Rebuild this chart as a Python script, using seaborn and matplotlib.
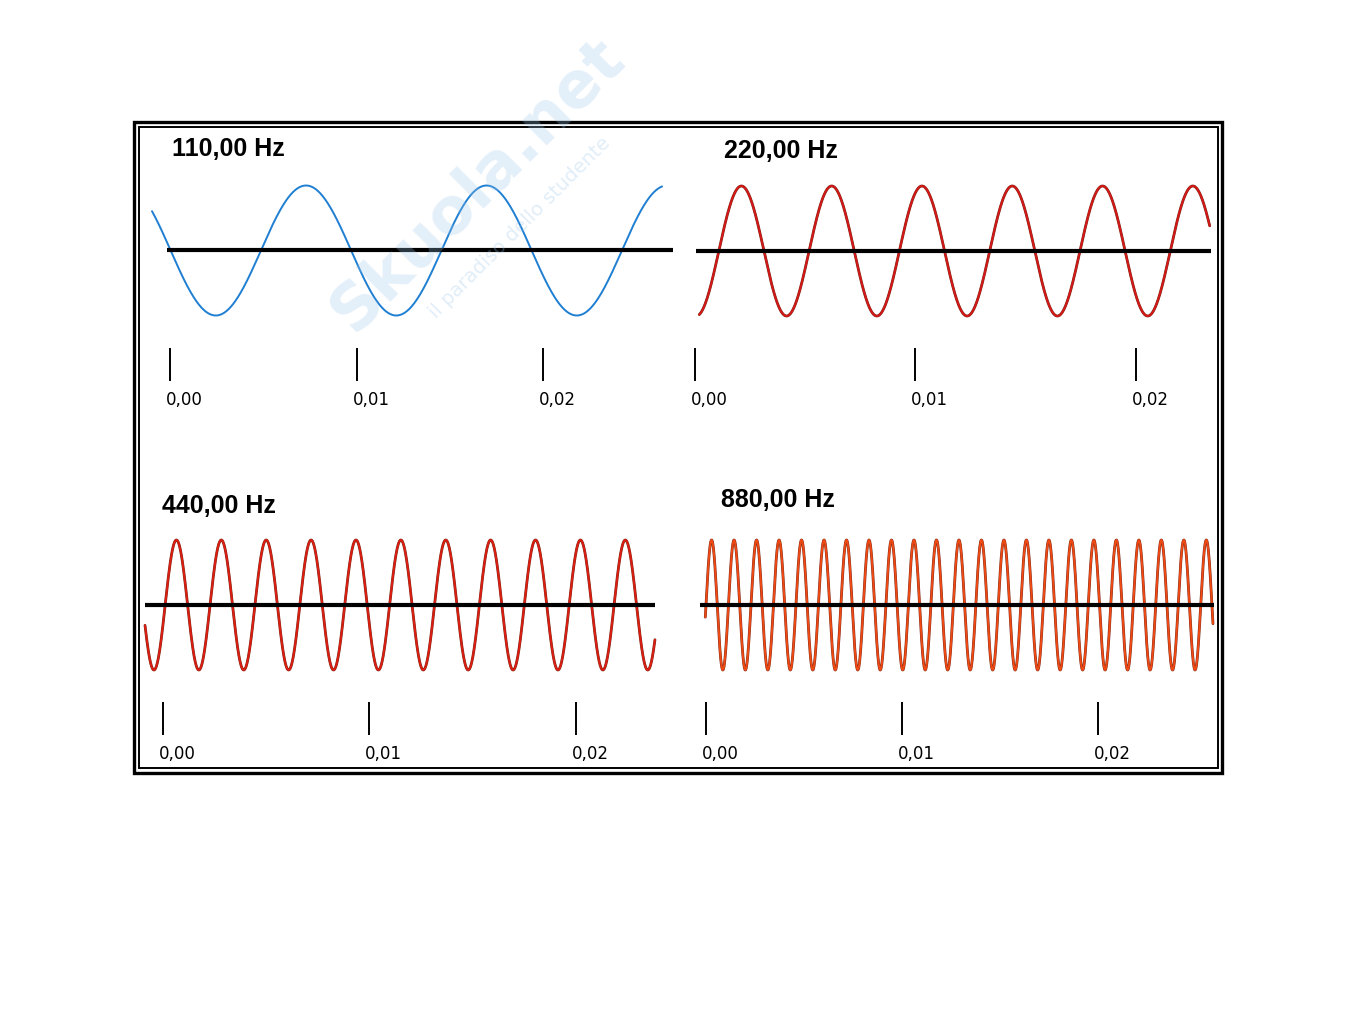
import numpy as np
import pandas as pd
import matplotlib
matplotlib.use('Agg')
import matplotlib.pyplot as plt
import matplotlib.transforms as mtransforms
from matplotlib.patches import Rectangle
import seaborn as sns

# Data
freqs = [110, 220, 440, 880]
wave_colors = ['#1f7fd2', '#d41818', '#dc1e12', '#f04a14']
period_s = [0.009673, 0.004092, 0.002175, 0.001147]      # drawn period against the axis ticks
first_peak_s = [0.00729, 0.002116, 0.000654, 0.000306]
wave_start_s = [-0.000965, 0.000208, -0.000867, -0.000015]
wave_end_s = [0.02637, 0.02334, 0.02384, 0.02588]
base_start_s = [-0.000134, 0.00005, -0.000867, -0.00027]
base_end_s = [0.02693, 0.02342, 0.02384, 0.02592]
tick_values = [0.00, 0.01, 0.02]
tick_labels = ['0,00', '0,01', '0,02']

# Layout (pixels in the 1350x1013 picture)
W, H = 1350, 1013
zero_px = [170, 694.7, 162.9, 705.6]
px_per_s = [18660, 22065, 20640, 19605]
center_py = [250.5, 251, 605, 605]
tick_top_py = [348, 348, 702, 702]
amp_px = 65
ax_left_px = [140, 686, 140, 686]
ax_right_px = [680, 1215, 680, 1215]
title_xy = [(172, 149), (724, 151), (162, 506), (721, 500)]

sns.set_style('white')
plt.rcParams['text.color'] = 'black'
plt.rcParams['xtick.color'] = 'black'
plt.rcParams['xtick.labelcolor'] = 'black'

fig = plt.figure(figsize=(13.5, 10.13), dpi=100)

label_shift = mtransforms.ScaledTranslation(-4 / 100, 0, fig.dpi_scale_trans)

for i in range(4):
    top_py = center_py[i] - 80
    bot_py = tick_top_py[i]
    ax = fig.add_axes([ax_left_px[i] / W, 1 - bot_py / H,
                       (ax_right_px[i] - ax_left_px[i]) / W, (bot_py - top_py) / H])
    ax.set_xlim((ax_left_px[i] - zero_px[i]) / px_per_s[i],
                (ax_right_px[i] - zero_px[i]) / px_per_s[i])
    ax.set_ylim(-(bot_py - center_py[i]) / amp_px, (center_py[i] - top_py) / amp_px)

    t = np.linspace(wave_start_s[i], wave_end_s[i], 3000)
    df = pd.DataFrame({'t': t,
                       'v': np.cos(2 * np.pi * (t - first_peak_s[i]) / period_s[i])})
    if i > 0:
        sns.lineplot(data=df, x='t', y='v', ax=ax, color='#7a2a1a', linewidth=2.0)
    sns.lineplot(data=df, x='t', y='v', ax=ax, color=wave_colors[i], linewidth=1.4)
    ax.hlines(0, base_start_s[i], base_end_s[i], color='black', linewidth=3)

    for s in ax.spines.values():
        s.set_visible(False)
    ax.set_xlabel('')
    ax.set_ylabel('')
    ax.set_yticks([])
    ax.set_xticks(tick_values)
    ax.set_xticklabels(tick_labels, ha='left', fontsize=12, family='DejaVu Sans',
                       color='black')
    ax.tick_params(axis='x', direction='out', length=24, width=1.4, color='black',
                   pad=7, bottom=True)
    for lab in ax.get_xticklabels():
        lab.set_transform(lab.get_transform() + label_shift)
    ax.patch.set_alpha(0)

    tx, ty = title_xy[i]
    fig.text(tx / W, 1 - ty / H, f'{freqs[i]},00 Hz', fontsize=18, fontweight='bold',
             family='Liberation Sans', color='black', va='center', ha='left')

# watermark
fig.text(478 / W, 1 - 185 / H, 'Skuola.net', fontsize=46, fontweight='bold',
         color='#9cc6ea', alpha=0.28, rotation=45, ha='center', va='center')
fig.text(520 / W, 1 - 228 / H, 'il paradiso dello studente', fontsize=14,
         color='#9cc6ea', alpha=0.3, rotation=45, ha='center', va='center')

# double frame
fig.patches.append(Rectangle((133.5 / W, 1 - 772.5 / H), (1222 - 133.5) / W, (772.5 - 122) / H,
                             transform=fig.transFigure, fill=False, edgecolor='black',
                             linewidth=2.4))
fig.patches.append(Rectangle((138.5 / W, 1 - 767.5 / H), (1217.5 - 138.5) / W, (767.5 - 127.5) / H,
                             transform=fig.transFigure, fill=False, edgecolor='black',
                             linewidth=1.4))

fig.savefig('out.png', dpi=100)
